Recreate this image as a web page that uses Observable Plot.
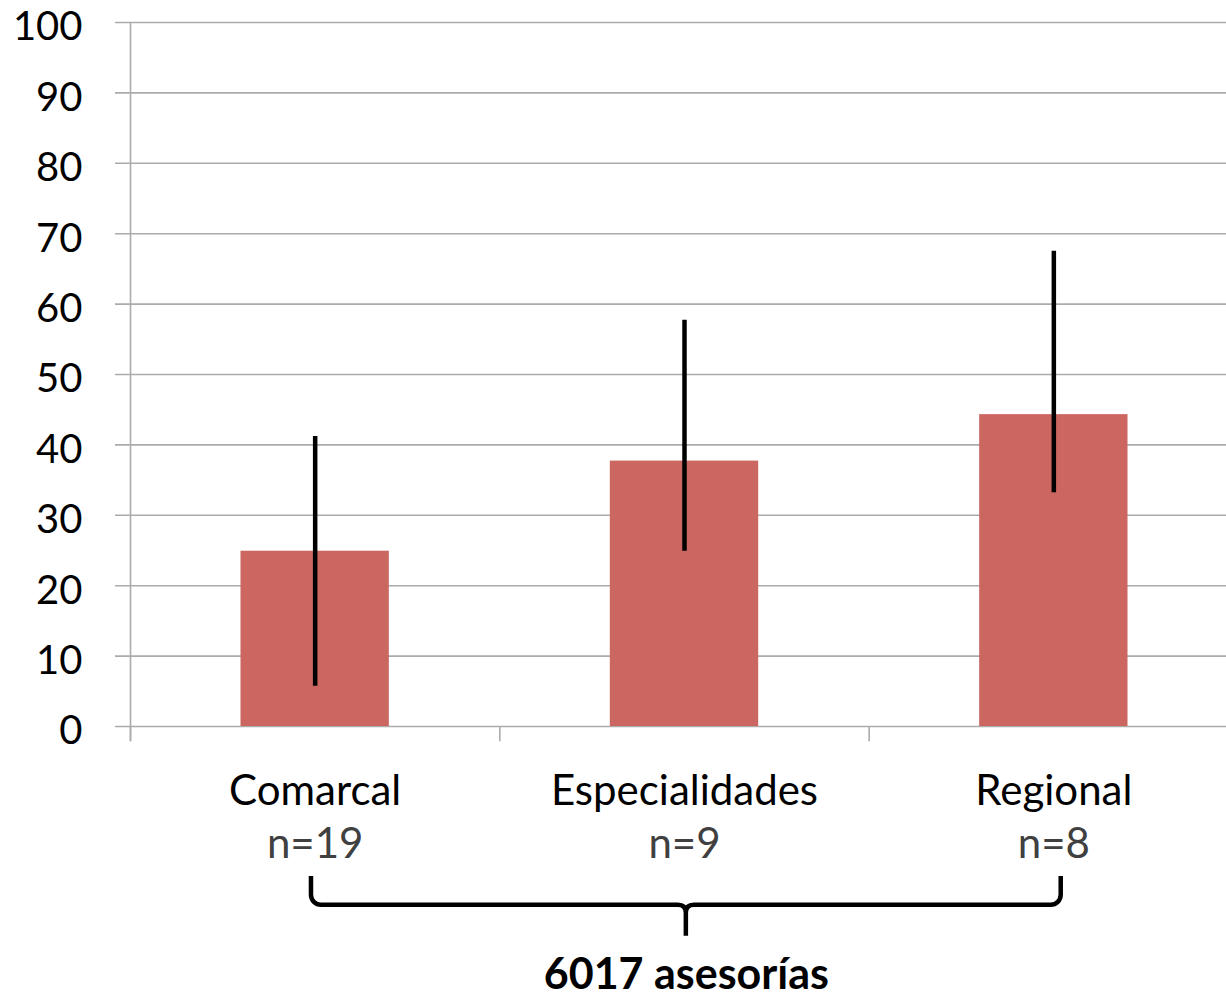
<!DOCTYPE html>
<html><head><meta charset="utf-8">
<script src="https://cdn.jsdelivr.net/npm/d3@7"></script>
<script src="https://cdn.jsdelivr.net/npm/@observablehq/plot@0.6"></script>
<style>
html,body{margin:0;padding:0;background:#fff;overflow:hidden;}
#chart svg{overflow:visible;}
</style>
</head><body><div id="chart"></div>
<script>
// ---- data ----
const categories = ["Comarcal", "Especialidades", "Regional"];
const sampleSizes = ["n=19", "n=9", "n=8"];
const values = [24.9, 37.7, 44.3];
const errLow = [5.7, 24.9, 33.2];
const errHigh = [41.2, 57.7, 67.5];
const yTicks = [0, 10, 20, 30, 40, 50, 60, 70, 80, 90, 100];
const braceLabel = "6017 asesorías";
// brace extent (category-axis units) and vertical positions (value units below the axis)
const braceSpan = [0.49, 2.52];
const braceTopY = -21.3, braceMidY = -25.4, braceTipY = -29.8;
const labelY = -9.3, nY = -16.7, braceLabelY = -35.3;

const data = categories.map((c, i) => ({
  cat: c, pos: i + 0.5, n: sampleSizes[i], value: values[i], lo: errLow[i], hi: errHigh[i]
}));
const boundaries = d3.range(categories.length + 1);

const font = "Lato, 'Open Sans', sans-serif";

// brace as a function mark using the scales
function brace(index, scales) {
  const x = scales.x, y = scales.y;
  const x0 = x(braceSpan[0]), x1 = x(braceSpan[1]), xm = (x0 + x1) / 2;
  const yt = y(braceTopY), ym = y(braceMidY), yb = y(braceTipY);
  const r = 10;
  const p = d3.path();
  p.moveTo(x0, yt);
  p.arcTo(x0, ym, x0 + r, ym, r);
  p.lineTo(xm - 8, ym);
  p.quadraticCurveTo(xm, ym, xm, ym + 8);
  p.lineTo(xm, yb);
  p.moveTo(x1, yt);
  p.arcTo(x1, ym, x1 - r, ym, r);
  p.lineTo(xm + 8, ym);
  p.quadraticCurveTo(xm, ym, xm, ym + 8);
  const g = d3.create("svg:path")
    .attr("d", p.toString())
    .attr("fill", "none")
    .attr("stroke", "#000")
    .attr("stroke-width", 4.5)
    .attr("stroke-linecap", "butt");
  return g.node();
}

const chart = Plot.plot({
  width: 1226,
  height: 996,
  marginLeft: 130,
  marginRight: -12,
  marginTop: 22,
  marginBottom: 270,
  style: {fontFamily: font, background: "#fff"},
  x: {type: "linear", domain: [0, 3], axis: null},
  y: {domain: [0, 100], axis: null},
  marks: [
    // horizontal gridlines with left tick stubs
    Plot.ruleY(yTicks, {x1: -15 / 369.3, x2: 3, stroke: "#ababab", strokeWidth: 1.6}),
    // y axis line
    Plot.ruleX([0], {y1: -2.15, y2: 100, stroke: "#ababab", strokeWidth: 1.6}),
    // category boundary ticks
    Plot.ruleX(boundaries, {x: d => d, y1: -2.15, y2: 0, stroke: "#ababab", strokeWidth: 1.6}),
    // y tick labels
    Plot.text(yTicks, {x: 0, y: d => d, text: d => String(d), textAnchor: "end", dx: -48, dy: 5, fontSize: 40, fill: "#000"}),
    // bars
    Plot.rectY(data, {x1: d => d.pos - 0.5, x2: d => d.pos + 0.5, y: "value", fill: "#cb6660", insetLeft: 110.5, insetRight: 110.5}),
    // error bars
    Plot.ruleX(data, {x: "pos", y1: "lo", y2: "hi", stroke: "#000", strokeWidth: 4.5}),
    // category labels
    Plot.text(data, {x: "pos", y: () => labelY, text: "cat", fontSize: 42, fill: "#000"}),
    Plot.text(data, {x: "pos", y: () => nY, text: "n", fontSize: 42, fill: "#404040"}),
    // brace and its label
    brace,
    Plot.text([braceLabel], {x: (braceSpan[0] + braceSpan[1]) / 2, y: () => braceLabelY, text: d => d, fontSize: 43, fontWeight: "bold", fill: "#000"})
  ]
});
document.getElementById("chart").append(chart);
</script>
</body></html>
